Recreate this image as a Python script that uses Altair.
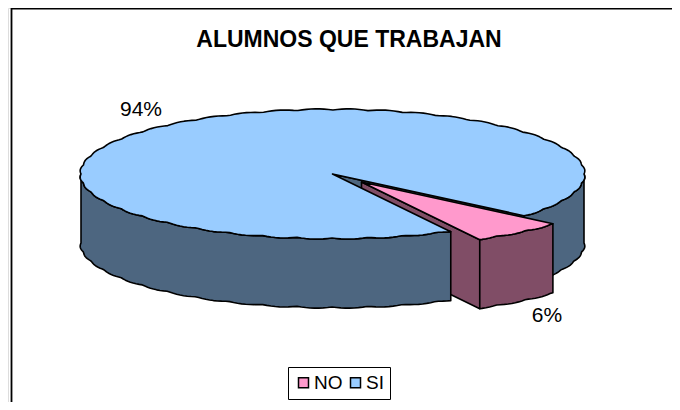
import numpy as np
import pandas as pd
import altair as alt

categories = ["NO", "SI"]
shares = [6, 94]
labels = ["6%", "94%"]
label_x = [547, 141]
label_y = [316, 110]
colors = ["#FF99CC", "#99CCFF"]
wall_colors = ["#804D66", "#4D6680"]
title_text = "ALUMNOS QUE TRABAJAN"

W, H = 664, 394
cx, cy, rx, ry, depth = 332.5, 174.0, 251.5, 64.0, 69.0
start = 40.5
sweep = shares[0] / sum(shares) * 360.0
t1, t2 = start, start + sweep
ox, oy = 29.0, 8.0


def edge(a, b, dx=0.0, dy=0.0):
    th = np.radians(np.arange(a, b, 1.0).tolist() + [b])
    bump = 1.3 * np.abs(np.sin(th * 22))
    return list(zip(cx + dx + (rx + bump) * np.cos(th), cy + dy + (ry + bump) * np.sin(th)))


def down(pts):
    return [(x, y + depth) for x, y in pts]


def wall(pts):
    return pts + down(pts)[::-1]


def pt(a, dx=0.0, dy=0.0):
    return edge(a, a, dx, dy)[0]


c_no = (cx + ox, cy + oy)
c_si = (cx, cy)
polys = [
    (wall(edge(0, t1)), wall_colors[1]),
    (wall([c_si, pt(t1)]), wall_colors[1]),
    (wall([c_no, pt(t2, ox, oy)]), wall_colors[0]),
    (wall(edge(t2, 180)), wall_colors[1]),
    ([c_si] + edge(t2, 360 + t1), colors[1]),
    (wall(edge(t1, t2, ox, oy)), wall_colors[0]),
    ([c_no] + edge(t1, t2, ox, oy), colors[0]),
]

xs = alt.Scale(domain=[8, 8 + W], range=[0, W], nice=False, zero=False)
ys = alt.Scale(domain=[8, 8 + H], range=[0, H], nice=False, zero=False)
X = lambda f="x": alt.X(f"{f}:Q", scale=xs, axis=None)
Y = lambda f="y": alt.Y(f"{f}:Q", scale=ys, axis=None)

layers = []
for p, col in polys:
    d = pd.DataFrame({"x": [q[0] for q in p], "y": [q[1] for q in p], "i": range(len(p))})
    layers.append(
        alt.Chart(d).mark_line(interpolate="linear-closed", fill=col, stroke="black",
                               strokeWidth=1.6, strokeJoin="round")
        .encode(x=X(), y=Y(), order="i:Q")
    )

frame = pd.DataFrame({"x": [11.5, 11.5, 672], "y": [402, 8.7, 8.7], "i": [0, 1, 2]})
layers.append(alt.Chart(frame).mark_line(stroke="black", strokeWidth=1.8, clip=False)
              .encode(x=X(), y=Y(), order="i:Q"))

text_df = pd.DataFrame({"x": label_x, "y": label_y, "t": labels})
layers.append(alt.Chart(text_df).mark_text(font="Liberation Sans", fontSize=21, color="#000000",
                                           align="center", baseline="middle")
              .encode(x=X(), y=Y(), text="t:N"))

leg_df = pd.DataFrame({"c": categories, "x": [cx, cx], "y": [cy, cy]})
layers.append(alt.Chart(leg_df).mark_square(size=1, opacity=0).encode(
    x=X(), y=Y(),
    color=alt.Color("c:N", scale=alt.Scale(domain=categories, range=colors),
                    legend=alt.Legend(orient="none", legendX=280, legendY=359, direction="horizontal",
                                      title=None, symbolType="square", symbolSize=100, symbolOpacity=1,
                                      symbolStrokeColor="black", symbolStrokeWidth=1.5,
                                      labelFont="Liberation Sans", labelFontSize=19, labelColor="#000000",
                                      labelOffset=1, columnPadding=3, padding=6,
                                      strokeColor="black", fillColor="white")),
))

chart = alt.layer(*layers).properties(
    width=W, height=H, padding=0,
    autosize=alt.AutoSizeParams(type="none"),
    title=alt.TitleParams(title_text, font="Liberation Sans", fontSize=23, fontWeight="bold",
                          color="#000000", anchor="middle", dx=9, dy=47, offset=0),
).configure_view(stroke=None).configure(background="white")

chart.save("out.html", embed_options={"renderer": "svg", "actions": False})
